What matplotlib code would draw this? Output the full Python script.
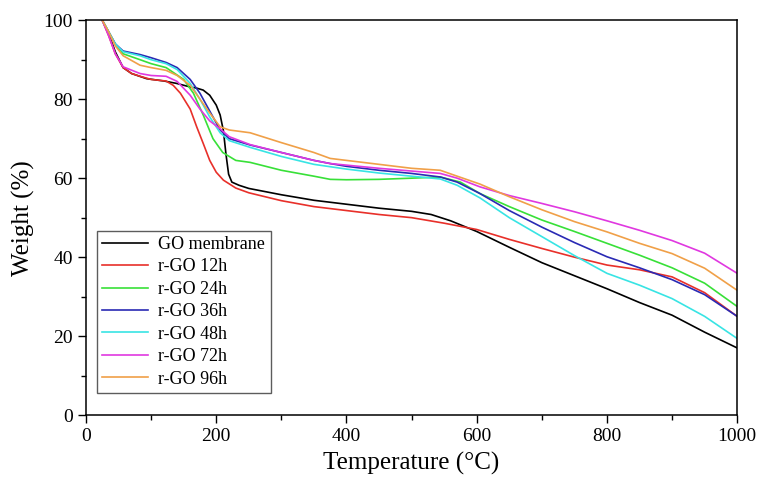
import matplotlib
matplotlib.use("Agg")
import matplotlib.pyplot as plt
from matplotlib.ticker import MultipleLocator

plt.rcParams['font.family'] = ['Liberation Serif', 'DejaVu Serif']

# TGA curves: temperature (°C) and weight (%)
t_go = [25, 35, 45, 57, 70, 93, 120, 139, 160, 170, 180, 190, 200, 206, 211, 215,
        219, 224, 235, 250, 300, 350, 400, 450, 500, 530, 560, 600, 650, 700, 750,
        800, 850, 900, 950, 1000]
w_go = [100, 96.5, 92, 88, 86.5, 85.2, 84.6, 84, 83.1, 82.8, 82.3, 81, 78.5, 76, 72,
        66, 61, 59, 58.2, 57.4, 55.8, 54.4, 53.4, 52.4, 51.6, 50.8, 49.2, 46.5,
        42.5, 38.6, 35.3, 32, 28.5, 25.3, 21, 17]

t_12 = [25, 35, 45, 57, 70, 83, 100, 123, 134, 145, 160, 170, 180, 190, 200, 211,
        230, 250, 300, 350, 400, 450, 500, 550, 600, 650, 700, 750, 800, 850, 900,
        950, 1000]
w_12 = [100, 96, 91.5, 88, 86.5, 85.8, 85, 84.6, 83.5, 81.5, 77.5, 73, 68.8, 64.5,
        61.5, 59.5, 57.5, 56.3, 54.3, 52.8, 51.8, 50.8, 50, 48.6, 47, 44.5, 42.2,
        40, 38, 36.8, 35, 31, 25]

t_24 = [25, 35, 45, 57, 83, 100, 123, 150, 165, 180, 195, 210, 230, 252, 300, 350,
        375, 400, 450, 500, 544, 575, 605, 650, 700, 750, 800, 850, 900, 950, 1000]
w_24 = [100, 97, 94, 91.5, 90, 89, 88, 85, 81.5, 76, 70, 66.5, 64.5, 64, 62, 60.5,
        59.7, 59.6, 59.7, 60, 60.3, 59, 56.1, 52.8, 49.4, 46.5, 43.5, 40.5, 37.3,
        33.4, 27.5]

t_36 = [25, 35, 45, 57, 83, 100, 123, 140, 160, 175, 190, 206, 220, 252, 300, 350,
        375, 400, 450, 500, 544, 570, 605, 650, 700, 750, 800, 850, 900, 950, 1000]
w_36 = [100, 97, 94, 92.2, 91.3, 90.5, 89.3, 88, 85, 81.5, 77, 72.2, 70, 68.4, 66.5,
        64.5, 63.7, 63, 62, 61.2, 60.3, 59, 56.1, 51.8, 47.6, 43.7, 40.1, 37.3, 34.3,
        30.5, 25]

t_48 = t_36
w_48 = [100, 97, 94, 92, 91, 90, 89, 87.5, 84, 80, 75.5, 71.5, 69.5, 67.8, 65.5,
        63.5, 62.9, 62.3, 61.3, 60.5, 59.8, 58.2, 55, 50, 45.2, 40.4, 35.9, 32.9,
        29.5, 25, 19.4]

t_72 = t_36
w_72 = [100, 96, 91.5, 88.2, 86.5, 86, 85.8, 84.5, 81, 77.5, 74.5, 72.5, 70.5, 68.5,
        66.5, 64.5, 63.7, 63.3, 62.5, 61.8, 61.2, 60, 57.8, 55.6, 53.6, 51.5, 49.2,
        46.8, 44.2, 41, 35.9]

t_96 = t_36
w_96 = [100, 97, 93.5, 91, 88.6, 88, 87.3, 86, 83.5, 80, 76.5, 73, 72.2, 71.5, 69,
        66.5, 65, 64.5, 63.5, 62.5, 62, 60.5, 58.5, 55.3, 52, 49, 46.4, 43.5, 40.9,
        37.2, 31.6]

labels = ["GO membrane", "r-GO 12h", "r-GO 24h", "r-GO 36h", "r-GO 48h",
          "r-GO 72h", "r-GO 96h"]
colors = ["black", "#e8302a", "#38e038", "#2a2ab4", "#38e4e4", "#e038e0", "#f0a048"]

fig = plt.figure(figsize=(7.59, 4.93), dpi=100)
ax = fig.add_axes([0.1133, 0.158, 0.858, 0.801])

series = [(t_go, w_go), (t_12, w_12), (t_24, w_24), (t_36, w_36),
          (t_48, w_48), (t_72, w_72), (t_96, w_96)]
for (t, w), lab, c in zip(series, labels, colors):
    ax.plot(t, w, color=c, lw=1.2, label=lab)

ax.set_xlim(0, 1000)
ax.set_ylim(0, 100)
ax.xaxis.set_major_locator(MultipleLocator(200))
ax.xaxis.set_minor_locator(MultipleLocator(100))
ax.yaxis.set_major_locator(MultipleLocator(20))
ax.yaxis.set_minor_locator(MultipleLocator(10))
ax.tick_params(which='major', direction='out', length=6, width=1, labelsize=14)
ax.tick_params(which='minor', direction='out', length=3.5, width=1)
for s in ax.spines.values():
    s.set_linewidth(1.1)

ax.set_xlabel("Temperature (°C)", fontsize=18, labelpad=5)
ax.set_ylabel("Weight (%)", fontsize=18, labelpad=6)

leg = ax.legend(loc='lower left', bbox_to_anchor=(0.017, 0.056), fontsize=13,
                frameon=True, fancybox=False, handlelength=2.5, labelspacing=0.3,
                borderpad=0.3, handletextpad=0.6, borderaxespad=0)
leg.get_frame().set_edgecolor('#333333')
leg.get_frame().set_linewidth(1.0)

fig.savefig("out.png", dpi=100)
